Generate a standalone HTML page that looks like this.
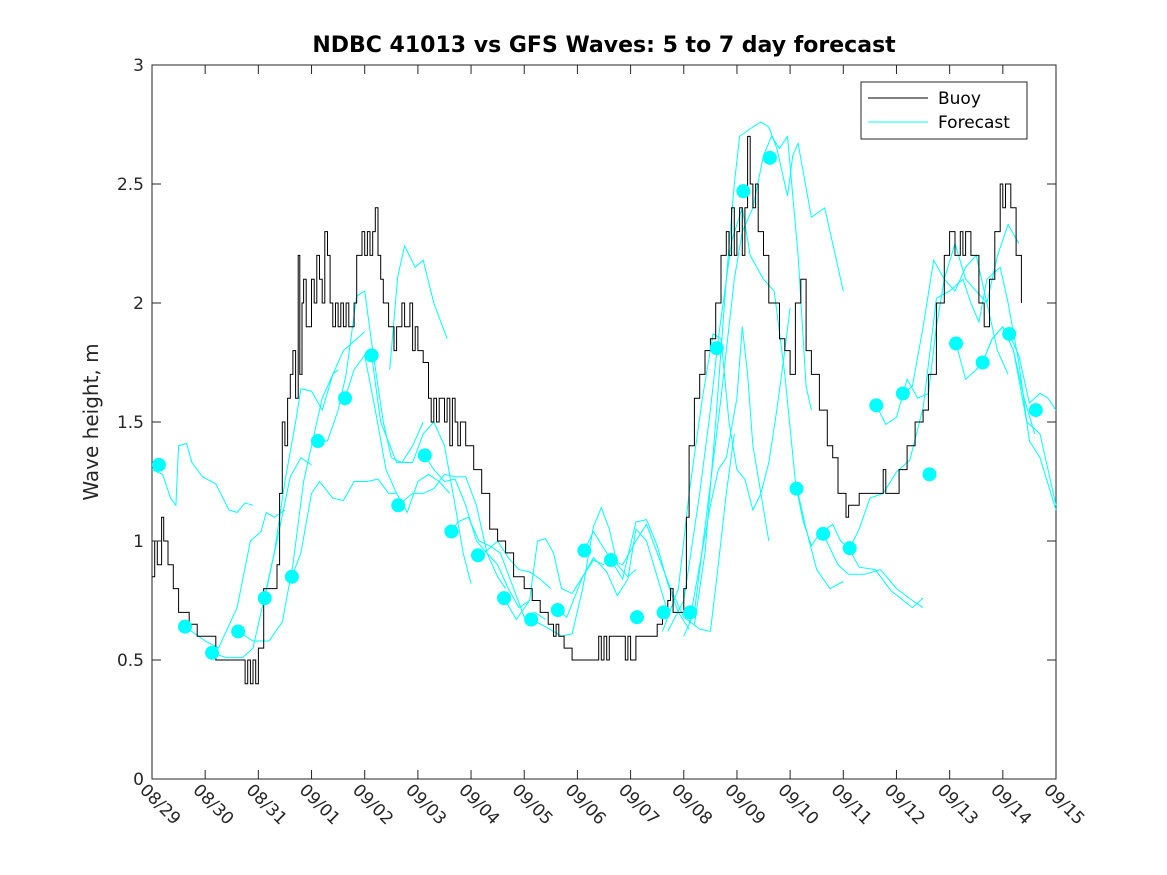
<!DOCTYPE html>
<html><head><meta charset="utf-8"><style>
body{margin:0;background:#fff;}
svg{display:block;font-family:"DejaVu Sans","Liberation Sans",sans-serif;}
</style></head><body>
<svg id="chart" width="1167" height="875" viewBox="0 0 1167 875" xmlns="http://www.w3.org/2000/svg">
<rect x="0" y="0" width="1167" height="875" fill="#fff"/>
<text x="604" y="52" text-anchor="middle" font-size="22" font-weight="bold" fill="#000">NDBC 41013 vs GFS Waves: 5 to 7 day forecast</text>
<text transform="translate(98,422) rotate(-90)" text-anchor="middle" font-size="20" fill="#262626">Wave height, m</text>
<g id="plot"></g>
<g id="legend">
<rect x="861" y="82" width="166" height="57" fill="#fff" stroke="#262626" stroke-width="1"/>
<line x1="868" y1="98" x2="928" y2="98" stroke="#000" stroke-width="1"/>
<text x="938" y="104" font-size="17" fill="#000">Buoy</text>
<line x1="868" y1="122" x2="928" y2="122" stroke="#00ffff" stroke-width="1"/>
<text x="938" y="128" font-size="17" fill="#000">Forecast</text>
</g>
</svg>
<script>
const xTickLabels=["08/29","08/30","08/31","09/01","09/02","09/03","09/04","09/05","09/06","09/07","09/08","09/09","09/10","09/11","09/12","09/13","09/14","09/15"];
const yTickValues=[0,0.5,1,1.5,2,2.5,3];
const yTickLabels=["0","0.5","1","1.5","2","2.5","3"];
const buoyDays=[0,0.05,0.1,0.18,0.22,0.3,0.4,0.5,0.6,0.7,0.85,1.0,1.2,1.7,1.75,1.8,1.85,1.9,1.95,2.0,2.1,2.25,2.35,2.4,2.45,2.5,2.55,2.6,2.65,2.7,2.75,2.78,2.82,2.85,2.9,3.0,3.05,3.1,3.15,3.2,3.25,3.3,3.35,3.4,3.45,3.5,3.55,3.6,3.65,3.7,3.8,3.85,3.95,4.0,4.05,4.1,4.15,4.2,4.25,4.3,4.35,4.45,4.55,4.6,4.7,4.75,4.85,4.9,4.95,5.0,5.1,5.2,5.25,5.3,5.35,5.4,5.5,5.55,5.6,5.65,5.7,5.75,5.8,5.9,6.05,6.2,6.35,6.5,6.65,6.8,7.0,7.15,7.3,7.45,7.55,7.6,7.65,7.75,7.9,8.4,8.45,8.5,8.55,8.6,8.9,8.95,9.0,9.1,9.3,9.5,9.6,9.7,9.75,9.8,9.9,10.0,10.05,10.1,10.2,10.3,10.4,10.5,10.6,10.7,10.8,10.85,10.9,10.95,11.0,11.05,11.1,11.15,11.2,11.25,11.3,11.35,11.4,11.5,11.6,11.8,11.9,12.0,12.1,12.2,12.3,12.4,12.55,12.7,12.8,12.9,13.0,13.05,13.1,13.3,13.5,13.7,13.75,13.8,13.9,14.05,14.2,14.35,14.5,14.6,14.75,14.9,15.0,15.1,15.2,15.25,15.3,15.4,15.55,15.65,15.75,15.85,15.95,16.0,16.05,16.15,16.25,16.35];
const buoyValues=[0.85,1.0,0.9,1.1,1.0,0.9,0.8,0.7,0.7,0.65,0.6,0.6,0.5,0.5,0.4,0.5,0.4,0.5,0.4,0.55,0.8,0.8,0.9,1.2,1.5,1.4,1.6,1.7,1.8,1.6,2.2,1.7,2.0,2.1,1.9,2.1,2.0,2.2,2.1,2.0,2.3,2.2,2.0,1.9,2.0,1.9,2.0,1.9,2.0,1.9,2.0,2.2,2.3,2.2,2.3,2.2,2.3,2.4,2.2,2.1,2.0,1.9,1.8,1.9,2.0,1.9,2.0,1.8,1.9,1.8,1.75,1.6,1.5,1.6,1.5,1.6,1.5,1.6,1.4,1.6,1.5,1.4,1.5,1.4,1.3,1.2,1.05,1.0,0.95,0.85,0.8,0.75,0.7,0.65,0.6,0.65,0.6,0.55,0.5,0.6,0.5,0.6,0.5,0.6,0.5,0.6,0.5,0.6,0.6,0.65,0.7,0.75,0.8,0.7,0.7,0.8,1.1,1.4,1.6,1.7,1.8,1.85,2.0,2.2,2.3,2.2,2.4,2.2,2.3,2.4,2.2,2.4,2.7,2.5,2.4,2.5,2.3,2.2,2.0,1.85,1.8,1.7,2.0,2.1,1.8,1.7,1.55,1.4,1.35,1.2,1.2,1.1,1.15,1.2,1.2,1.2,1.3,1.2,1.2,1.3,1.4,1.5,1.55,1.7,2.0,2.2,2.3,2.2,2.3,2.2,2.3,2.2,2.0,1.9,2.1,2.3,2.5,2.4,2.5,2.4,2.2,2.0];
const circleDays=[0.13,0.62,1.13,1.62,2.12,2.63,3.12,3.63,4.13,4.63,5.13,5.63,6.13,6.62,7.13,7.63,8.13,8.63,9.12,9.62,10.12,10.62,11.12,11.62,12.12,12.62,13.12,13.62,14.12,14.62,15.12,15.62,16.12,16.62];
const circleValues=[1.32,0.64,0.53,0.62,0.76,0.85,1.42,1.60,1.78,1.15,1.36,1.04,0.94,0.76,0.67,0.71,0.96,0.92,0.68,0.70,0.70,1.81,2.47,2.61,1.22,1.03,0.97,1.57,1.62,1.28,1.83,1.75,1.87,1.55];
const fcDays=[
[0,0.2,0.35,0.45,0.5,0.65,0.75,0.95,1.2,1.45,1.6,1.75,1.9],
[0.62,1.0,1.25,1.6,1.85,2.05,2.15,2.3,2.5],
[1.13,1.4,1.7,1.9,2.1,2.35,2.6,2.8,3.0],
[1.62,1.9,2.2,2.45,2.65,2.85,3.0,3.2,3.4,3.6,3.8,4.0],
[2.12,2.3,2.5,2.7,2.8,3.0,3.2,3.4,3.5],
[2.63,2.8,3.0,3.15,3.4,3.6,3.8,4.05,4.25,4.45,4.6],
[3.12,3.3,3.5,3.65,3.85,4.0,4.15,4.35,4.5,4.7,4.9,5.1],
[3.63,3.8,4.0,4.2,4.4,4.6,4.8,5.0,5.2,5.4,5.6],
[4.13,4.3,4.6,4.9,5.1,5.3,5.5,5.7,5.85,6.0],
[4.47,4.62,4.75,4.95,5.1,5.3,5.55],
[4.63,4.9,5.1,5.3,5.5,5.7,5.9,6.1,6.3,6.5,6.65],
[5.13,5.3,5.5,5.7,5.9,6.1,6.3,6.5,6.7,6.9,7.1],
[5.63,5.75,5.95,6.15,6.35,6.55,6.8,7.0,7.2,7.4],
[6.13,6.3,6.5,6.7,6.9,7.1,7.3,7.5],
[6.62,6.85,7.1,7.25,7.4,7.55,7.7,7.9,8.1,8.3,8.5],
[7.13,7.4,7.7,7.9,8.1,8.3,8.45,8.6,8.75,8.95,9.1],
[7.63,7.8,8.1,8.3,8.55,8.75,8.95,9.1,9.3,9.5,9.7],
[8.13,8.3,8.55,8.85,9.1,9.3,9.5,9.7,9.9,10.1],
[8.63,8.85,9.1,9.3,9.5,9.75,10.0,10.3,10.5],
[10.2,10.4,10.6,10.8,10.95,11.05,11.3,11.45,11.6,11.75,11.95,12.05,12.15,12.4,12.65,13.0],
[10.0,10.2,10.45,10.7,10.95,11.1,11.3,11.5,11.65,11.8,11.95,12.15,12.3,12.4],
[9.7,10.0,10.3,10.5,10.65,10.9,11.1,11.25,11.5,11.7,11.9,12.1,12.3,12.5,12.75,13.0],
[9.6,9.9,10.1,10.35,10.55,10.7,10.85,11.0,11.15,11.3,11.45,11.6,11.75,11.9,12.0],
[10.1,10.3,10.5,10.65,10.8,11.0,11.1,11.2,11.3,11.45,11.6],
[10.5,10.65,10.8,10.95],
[12.12,12.25,12.4,12.55,12.8,12.95,13.1,13.3,13.6,13.9,14.3,14.5],
[12.62,12.9,13.1,13.4,13.7,14.0,14.3,14.5],
[13.12,13.3,13.5,13.75,14.0,14.25,14.5,14.65,14.75,15.0,15.25,15.4,15.55,15.7,15.95,16.1,16.3,16.5,16.7,17.0],
[13.62,13.8,14.0,14.2,14.4,14.6,14.75,14.9,15.1,15.3,15.5,15.7,15.9,16.1,16.3],
[14.12,14.3,14.5,14.7,14.9,15.1,15.3,15.5,15.7,15.9,16.1],
[15.12,15.3,15.5,15.62,15.8,16.0,16.2,16.4,16.6],
[15.62,15.8,16.0,16.2,16.45,16.7,17.0],
[16.12,16.3,16.5,16.7,16.85,17.0]
];
const fcValues=[
[1.30,1.28,1.18,1.15,1.40,1.41,1.33,1.27,1.24,1.13,1.12,1.16,1.15],
[0.64,0.58,0.55,0.72,1.0,1.04,1.12,1.10,1.13],
[0.53,0.51,0.51,0.55,0.75,1.0,1.27,1.35,1.32],
[0.62,0.58,0.58,0.66,0.9,1.25,1.40,1.60,1.70,1.80,1.84,1.88],
[0.76,0.95,1.25,1.50,1.64,1.63,1.55,1.70,1.72],
[0.85,0.95,1.2,1.25,1.18,1.17,1.25,1.25,1.26,1.20,1.20],
[1.42,1.42,1.55,1.70,2.03,2.05,1.80,1.50,1.35,1.33,1.40,1.50],
[1.60,1.72,1.78,1.55,1.30,1.20,1.12,1.25,1.28,1.25,1.20],
[1.78,1.50,1.33,1.33,1.45,1.50,1.40,1.15,0.95,0.82],
[1.72,2.11,2.24,2.15,2.18,2.00,1.85],
[1.15,1.20,1.20,1.22,1.28,1.27,1.27,1.15,0.95,0.85,0.80],
[1.36,1.30,1.25,1.26,1.15,1.0,0.95,0.9,0.8,0.72,0.75],
[1.04,1.08,1.10,1.00,0.98,0.95,0.80,0.68,0.70,0.67],
[0.94,0.96,1.0,0.93,0.88,0.87,0.84,0.80],
[0.76,0.67,0.75,1.00,1.01,0.95,0.80,0.78,0.85,0.92,0.90],
[0.67,0.64,0.60,0.61,0.80,1.06,1.14,1.05,0.90,0.85,0.88],
[0.71,0.68,0.85,0.93,0.87,0.77,0.84,1.05,1.00,0.85,0.70],
[0.96,1.04,0.95,0.84,1.08,1.09,0.98,0.82,0.70,0.63],
[0.92,0.90,1.00,1.07,0.95,0.80,0.68,0.63,0.62],
[0.65,0.95,1.5,2.1,2.5,2.70,2.74,2.76,2.74,2.65,2.45,2.62,2.67,2.36,2.40,2.05],
[0.6,0.7,1.15,1.6,2.1,2.3,2.4,2.62,2.70,2.65,2.70,2.20,1.65,1.55],
[0.62,0.75,1.2,1.55,1.85,2.26,2.40,2.20,2.10,2.05,1.70,1.25,1.05,0.88,0.80,0.83],
[0.62,0.8,1.2,1.6,1.87,1.85,1.50,1.30,1.26,1.13,1.20,1.33,1.55,1.80,1.98],
[0.65,0.9,1.15,1.3,1.35,1.60,1.9,1.7,1.40,1.20,1.0],
[0.62,0.9,1.2,1.45],
[1.22,1.08,0.98,1.03,1.07,1.0,0.97,0.89,0.88,0.79,0.72,0.76],
[1.03,0.90,0.86,0.86,0.88,0.80,0.75,0.72],
[0.97,1.05,1.18,1.20,1.29,1.34,1.56,1.83,2.02,2.05,2.10,2.0,1.92,2.10,2.15,2.0,1.75,1.42,1.35,1.13],
[1.57,1.49,1.52,1.68,1.60,1.62,1.90,2.10,2.25,2.10,2.05,2.0,2.20,2.33,2.25],
[1.62,1.65,1.90,2.18,2.10,2.05,2.15,2.20,2.00,1.80,1.70],
[1.83,1.68,1.72,1.75,1.85,1.90,1.80,1.60,1.45],
[1.75,1.85,1.90,1.80,1.50,1.45,1.15],
[1.87,1.78,1.58,1.62,1.60,1.55]
];

const NS="http://www.w3.org/2000/svg";
const X0=152,X1=1056,Y0=779,Y1=65,DMAX=17,VMAX=3;
function xs(d){return X0+(X1-X0)*d/DMAX;}
function ys(v){return Y0-(Y0-Y1)*v/VMAX;}
const plot=document.getElementById('plot');
function mk(tag,attrs){const e=document.createElementNS(NS,tag);for(const k in attrs)e.setAttribute(k,attrs[k]);return e;}

const frame=mk('rect',{x:X0,y:Y1,width:X1-X0,height:Y0-Y1,fill:'#fff',stroke:'#262626','stroke-width':1});


plot.appendChild(frame);

fcDays.forEach((ds,i)=>{
  const pts=ds.map((d,j)=>xs(d).toFixed(1)+','+ys(fcValues[i][j]).toFixed(1)).join(' ');
  const pl=mk('polyline',{points:pts,fill:'none',stroke:'#00ffff','stroke-width':1});
  
  
  plot.appendChild(pl);
});

let bp=[];
for(let i=0;i<buoyDays.length;i++){
  if(i>0) bp.push(xs(buoyDays[i]).toFixed(1)+','+ys(buoyValues[i-1]).toFixed(1));
  bp.push(xs(buoyDays[i]).toFixed(1)+','+ys(buoyValues[i]).toFixed(1));
}
const buoy=mk('polyline',{points:bp.join(' '),fill:'none',stroke:'#000','stroke-width':1});


plot.appendChild(buoy);

circleDays.forEach((d,i)=>{
  const c=mk('circle',{cx:xs(d),cy:ys(circleValues[i]),r:7,fill:'#00ffff'});
  
  
  plot.appendChild(c);
});

yTickValues.forEach((v,i)=>{
  const y=ys(v);
  const t1=mk('line',{x1:X0,y1:y,x2:X0+9,y2:y,stroke:'#262626'});
  
  
  plot.appendChild(t1);
  const t2=mk('line',{x1:X1,y1:y,x2:X1-9,y2:y,stroke:'#262626'});
  
  
  plot.appendChild(t2);
  const tx=mk('text',{x:X0-8,y:y+6,'text-anchor':'end','font-size':17,fill:'#262626'});
  tx.textContent=yTickLabels[i];
  
  
  plot.appendChild(tx);
});
xTickLabels.forEach((lab,i)=>{
  const x=xs(i);
  const t1=mk('line',{x1:x,y1:Y0,x2:x,y2:Y0-9,stroke:'#262626'});
  
  
  plot.appendChild(t1);
  const t2=mk('line',{x1:x,y1:Y1,x2:x,y2:Y1+9,stroke:'#262626'});
  
  
  plot.appendChild(t2);
  const tx=mk('text',{x:0,y:0,'font-size':17,fill:'#262626',transform:'translate('+(x-13)+','+(Y0+12)+') rotate(45)'});
  tx.textContent=lab;
  
  
  plot.appendChild(tx);
});
</script>
</body></html>
